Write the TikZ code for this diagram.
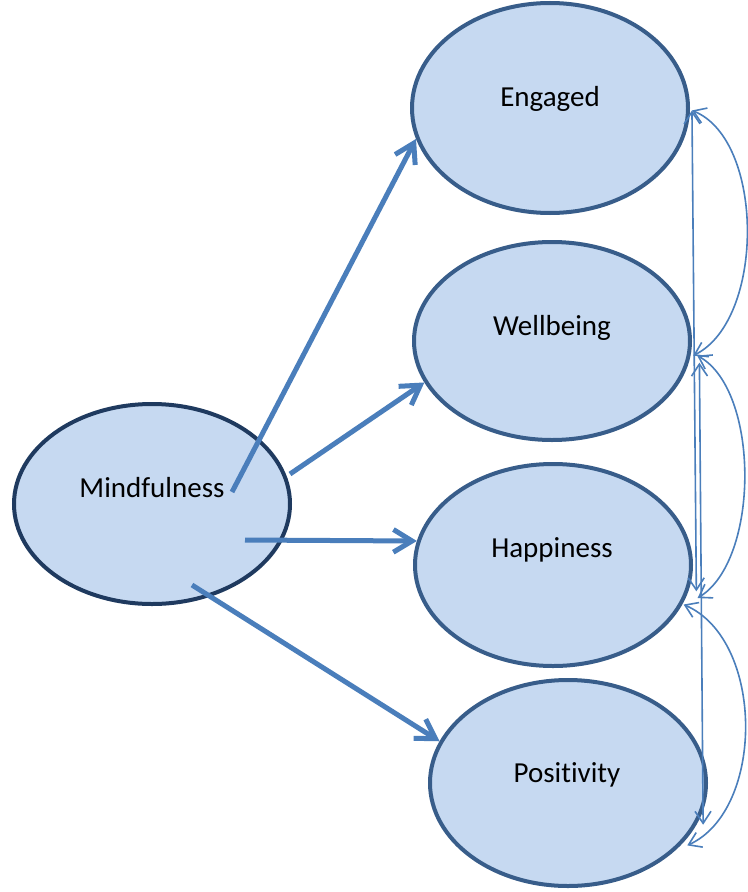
\documentclass[tikz,border=0pt]{standalone}
\usepackage{fontspec}
\setmainfont{Carlito}[Ligatures=NoCommon]
\usetikzlibrary{shapes.geometric,arrows.meta}
\definecolor{fillb}{HTML}{C6D9F1}
\definecolor{edgeb}{HTML}{385D8A}
\definecolor{edgem}{HTML}{1F3A5F}
\definecolor{arrb}{HTML}{4A7EBB}
\begin{document}
\begin{tikzpicture}[x=0.75pt,y=-0.75pt,
  var/.style={ellipse, draw=edgeb, line width=3pt, fill=fillb, inner sep=0pt, minimum width=207pt},
  lab/.style={anchor=base, inner sep=0pt, font=\fontsize{21.75}{26}\selectfont},
  big/.style={draw=arrb, line width=3.75pt, -{Straight Barb[length=14pt,width=17pt]}},
  cor/.style={draw=arrb, line width=1.2pt, {Straight Barb[length=9pt,width=12pt]}-{Straight Barb[length=9pt,width=12pt]}}]
\useasboundingbox (0,0) rectangle (747,892);
% variables
\node[var, draw=edgem, minimum height=150pt] (m) at (152,504) {};
\node[var, minimum height=157.5pt] (e) at (550,108) {};
\node[var, minimum height=148.5pt] (w) at (552,341) {};
\node[var, minimum height=151.5pt] (h) at (553,565) {};
\node[var, minimum height=154.5pt] (p) at (568,783) {};
% labels
\node[lab] (mt) at (152,497) {Mindfulness};
\node[lab] (et) at (550,107) {Engaged};
\node[lab] (wt) at (552,335) {Wellbeing};
\node[lab] (ht) at (552,557) {Happiness};
\node[lab] (pt) at (567,782) {Positivity};
% arrow starts inside Mindfulness
\coordinate (s1) at (232,492);
\coordinate (s2) at (290,474);
\coordinate (s3) at (245,540);
\coordinate (s4) at (192,585);
\draw[big] (s1) -- (e.193);
\draw[big] (s2) -- (w.198);
\draw[big] (s3) -- (h.170);
\draw[big] (s4) -- (p.162.6);
% correlations
\draw[cor] ([xshift=1.5pt]e.-1) .. controls (765,140) and (765,320) .. ([xshift=2pt]w.-6);
\draw[cor] ([xshift=1.5pt]e.-1) -- ([xshift=6pt]h.-11);
\draw[cor] ([xshift=5pt]w.-6) .. controls (760,390) and (760,560) .. ([xshift=9pt]h.-14);
\draw[cor] ([xshift=8pt]w.-9) -- ([xshift=5pt]p.-18);
\draw[cor] ([xshift=1pt]h.-17) .. controls (765,640) and (765,810) .. ([xshift=5pt]p.-29);
\end{tikzpicture}
\end{document}
